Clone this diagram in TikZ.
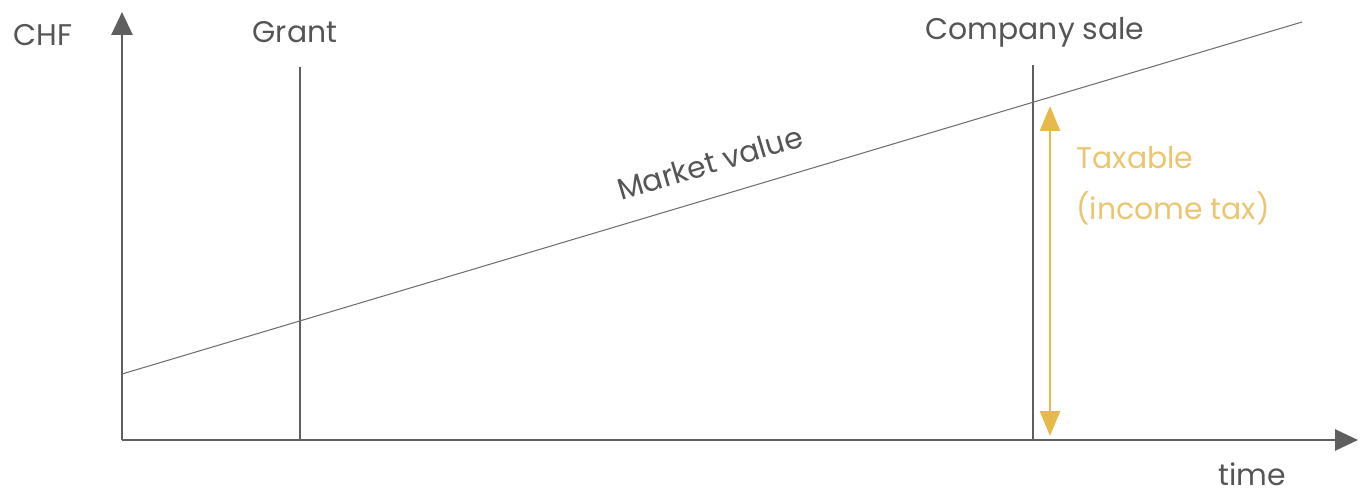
\documentclass[tikz,border=0pt]{standalone}
\usepackage{fontspec}
\setmainfont{Poppins}
\usetikzlibrary{arrows.meta}

\definecolor{axisgray}{HTML}{5F5F5F}
\definecolor{textgray}{HTML}{555555}
\definecolor{taxgold}{HTML}{E6B94A}
\definecolor{taxtext}{HTML}{EBC56F}

\begin{document}
\begin{tikzpicture}[x=0.02cm,y=-0.02cm,>={Triangle[length=0.46cm,width=0.42cm]},
    lbl/.style={text=textgray,font=\fontsize{17}{22}\selectfont,inner sep=0pt}]
  \useasboundingbox (0,0) rectangle (1360,494);
  % axes
  \coordinate (O) at (122,440);
  \draw[->,axisgray,line width=1.6pt] (O) -- (1358,440);
  \draw[->,axisgray,line width=1.6pt] (O) -- (122,12);
  \node[lbl] (chf) at (43,35) {CHF};
  \node[lbl] (time) at (1252,474) {time};
  % events
  \draw[axisgray,line width=1pt] (300,440) -- (300,67);
  \draw[axisgray,line width=1pt] (1033,440) -- (1033,65);
  \node[lbl] (grant) at (295,32) {Grant};
  \node[lbl] (sale) at (1035,32) {Company sale};
  % market value
  \draw[axisgray!90,line width=0.6pt] (122,374) -- (1302,22);
  \node[lbl,rotate=16.6] (mv) at (710,163) {Market value};
  % taxable part
  \draw[<->,taxgold,line width=1.6pt,>={Triangle[length=0.5cm,width=0.4cm]}] (1050,106) -- (1050,436);
  \node[text=taxtext,font=\fontsize{17}{29}\selectfont,align=left,anchor=north west,inner sep=0pt] (tax) at (1076,146) {Taxable\\(income tax)};
\end{tikzpicture}
\end{document}
